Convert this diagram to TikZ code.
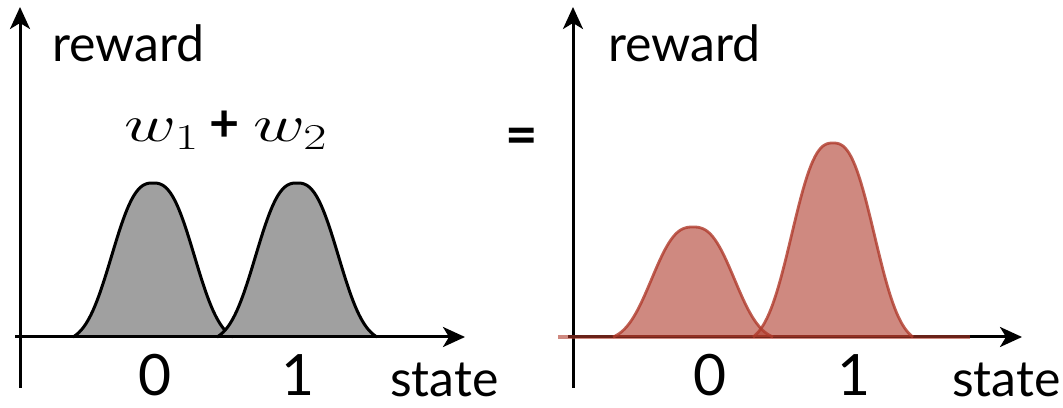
\documentclass[tikz,border=0pt]{standalone}
\usepackage{fix-cm}
\usepackage{fontspec}
\setmainfont{Lato}
\usetikzlibrary{arrows.meta}
\definecolor{bumpgray}{RGB}{160,160,160}
\definecolor{rewardred}{RGB}{175,58,43}
\tikzset{
  axis/.style={
    line width=3pt,
    -{Stealth[length=22pt,width=20pt,inset=6pt]}
  },
  graybump/.style={
    fill=bumpgray
  },
  grayline/.style={
    line width=3pt,
    black
  },
  redbump/.style={
    fill=rewardred,
    fill opacity=.6
  },
  redline/.style={
    line width=2.8pt,
    rewardred,
    draw opacity=.8
  },
  axislabel/.style={
    inner sep=0pt,
    font=\fontsize{50}{54}\selectfont
  },
  tick/.style={
    inner sep=0pt,
    anchor=base,
    font=\fontsize{57}{61}\selectfont
  }
}

\begin{document}
\begin{tikzpicture}[x=1pt,y=1pt]
\useasboundingbox (0,0) rectangle (1063,407);

% left plot: the two weights
\coordinate (ol) at (20,70);
\foreach \c in {153,297}{
  \fill[graybump] plot[domain=\c-80:\c+80,samples=81]
    (\x,{70+154*(exp(-(abs(\x-\c)/50)^2.6)-0.0337)/0.9663}) -- cycle;
  \draw[grayline] plot[domain=\c-80:\c+80,samples=81]
    (\x,{70+154*(exp(-(abs(\x-\c)/50)^2.6)-0.0337)/0.9663});
}
\draw[axis] (20,19) -- (20,400) coordinate (yl);
\draw[axis] (15,70) -- (465,70) coordinate (xl);

\node[axislabel, anchor=base west] (rewl) at (52,345) {reward};
\node[axislabel, anchor=base west] (statel) at (390,10) {state};
\node[tick] (zerol) at (155,11) {0};
\node[tick] (onel) at (298,11) {1};
\node[anchor=base, inner sep=0pt, font=\fontsize{52}{56}\selectfont] (wsum) at (226,265)
  {\scalebox{1.38}[1]{$w_1$}\hspace{11pt}{\bfseries+}\hspace{13pt}\scalebox{1.38}[1]{$w_2$}};

\node[inner sep=0pt, font=\bfseries\fontsize{56}{60}\selectfont] (eq) at (522,266) {=};

% right plot: the sum
\coordinate (or) at (573,70);
\draw[axis] (573,19) -- (573,400) coordinate (yr);
\draw[axis] (568,70) -- (1022,70) coordinate (xr);
\foreach \c/\h in {693/110,833/194}{
  \fill[redbump] plot[domain=\c-80:\c+80,samples=81]
    (\x,{70+\h*(exp(-(abs(\x-\c)/50)^2.6)-0.0337)/0.9663}) -- cycle;
  \draw[redline] plot[domain=\c-80:\c+80,samples=81]
    (\x,{70+\h*(exp(-(abs(\x-\c)/50)^2.6)-0.0337)/0.9663});
}
\draw[rewardred, line width=4pt, draw opacity=.6] (558,70) -- (970,70);

\node[axislabel, anchor=base west] (rewr) at (608,345) {reward};
\node[axislabel, anchor=base west] (stater) at (952,10) {state};
\node[tick] (zeror) at (710,11) {0};
\node[tick] (oner) at (854,11) {1};
\end{tikzpicture}
\end{document}
